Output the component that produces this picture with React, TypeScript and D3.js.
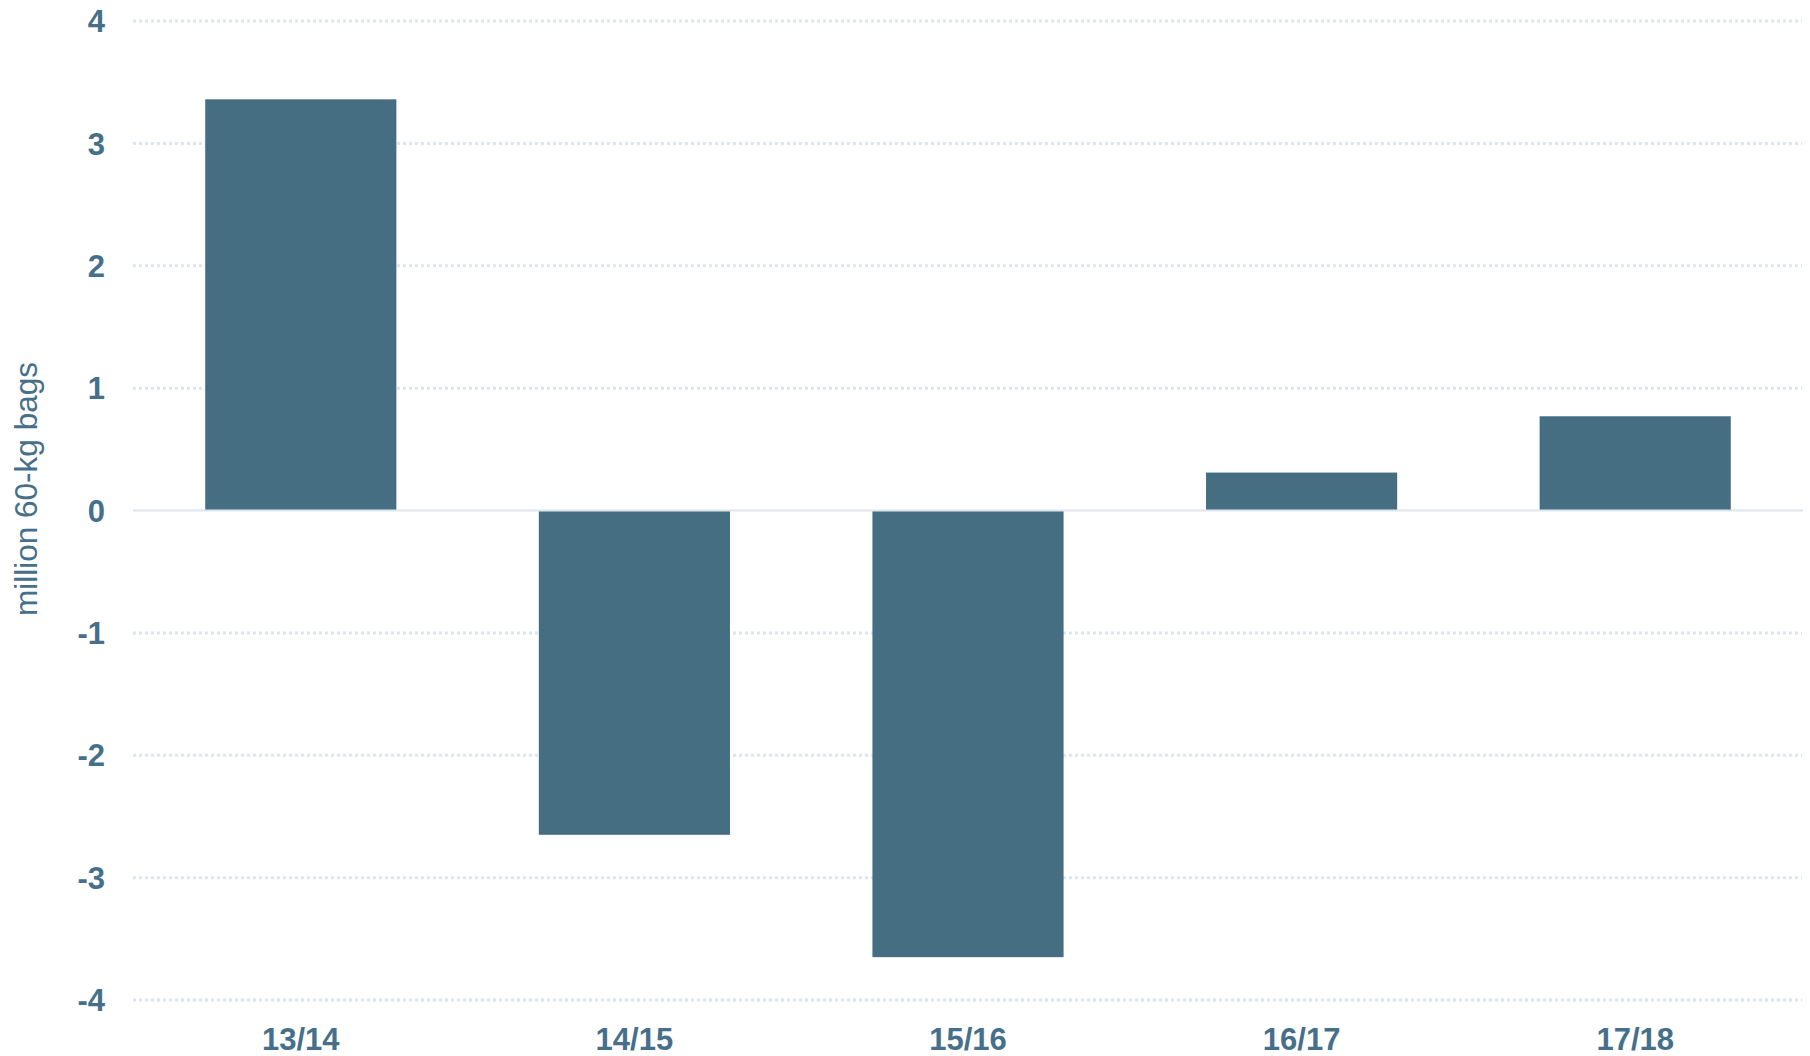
import React, { useEffect, useRef } from 'react';
import * as d3 from 'd3';

// crop years and the change in million 60-kg bags
const seasons = ['13/14', '14/15', '15/16', '16/17', '17/18'];
const changes = [3.36, -2.65, -3.65, 0.31, 0.77];
const yTicks = [-4, -3, -2, -1, 0, 1, 2, 3, 4];
const yTitle = 'million 60-kg bags';

const barColor = '#466e83';
const textColor = '#46708a';
const gridColor = '#dde6ee';

function App() {
  const ref = useRef<SVGSVGElement>(null);

  useEffect(() => {
    draw();
  }, []);

  function draw() {
    const width = 1810;
    const height = 1056;
    const margin = { top: 21, right: 8, bottom: 56, left: 134 };

    const svg = d3.select(ref.current);
    svg.selectAll('*').remove();

    const xScale = d3
      .scaleBand()
      .domain(seasons)
      .range([margin.left, width - margin.right])
      .paddingInner(0.427)
      .paddingOuter(0.2135);
    const yScale = d3
      .scaleLinear()
      .domain([-4, 4])
      .range([height - margin.bottom, margin.top]);

    const font = '"Liberation Sans", Arial, sans-serif';

    // dotted grid
    svg
      .append('g')
      .selectAll('line')
      .data(yTicks.filter(d => d !== 0))
      .enter()
      .append('line')
      .attr('x1', 133)
      .attr('x2', width - margin.right)
      .attr('y1', d => yScale(d))
      .attr('y2', d => yScale(d))
      .attr('stroke', gridColor)
      .attr('stroke-width', 3)
      .style('stroke-dasharray', '3, 3');

    // bars
    svg
      .append('g')
      .selectAll('rect')
      .data(changes)
      .enter()
      .append('rect')
      .attr('x', (d, i) => xScale(seasons[i]))
      .attr('width', xScale.bandwidth())
      .attr('y', d => yScale(Math.max(0, d)))
      .attr('height', d => Math.abs(yScale(d) - yScale(0)))
      .attr('fill', barColor);

    // zero line
    svg
      .append('line')
      .attr('x1', 133)
      .attr('x2', width - margin.right + 1)
      .attr('y1', yScale(0))
      .attr('y2', yScale(0))
      .attr('stroke', '#dde6eb')
      .attr('stroke-width', 2);

    // y tick labels
    svg
      .append('g')
      .selectAll('text')
      .data(yTicks)
      .enter()
      .append('text')
      .attr('x', 105)
      .attr('y', d => yScale(d))
      .attr('dy', '0.36em')
      .attr('text-anchor', 'end')
      .style('font-family', font)
      .style('font-size', '31px')
      .style('font-weight', 700)
      .attr('fill', textColor)
      .text(d => d);

    // x labels
    svg
      .append('g')
      .selectAll('text')
      .data(seasons)
      .enter()
      .append('text')
      .attr('x', d => xScale(d) + xScale.bandwidth() / 2)
      .attr('y', 1050)
      .attr('text-anchor', 'middle')
      .style('font-family', font)
      .style('font-size', '31px')
      .style('font-weight', 700)
      .attr('fill', textColor)
      .text(d => d);

    // axis title
    svg
      .append('text')
      .attr('transform', 'translate(37,489) rotate(-90)')
      .attr('text-anchor', 'middle')
      .style('font-family', font)
      .style('font-size', '31.5px')
      .attr('fill', textColor)
      .text(yTitle);
  }

  return (
    <div style={{ position: 'absolute', left: 0, top: 0 }}>
      <svg ref={ref} width={1810} height={1056} style={{ display: 'block', background: '#fff' }} />
    </div>
  );
}

export default App;
